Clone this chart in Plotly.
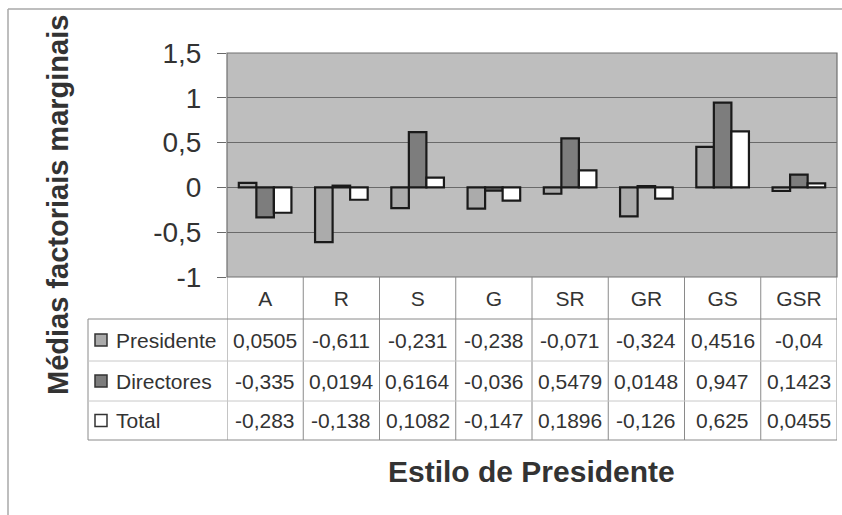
import plotly.graph_objects as go

# Marginal factorial means by chairman style
categories = ["A", "R", "S", "G", "SR", "GR", "GS", "GSR"]
series_names = ["Presidente", "Directores", "Total"]
presidente = [0.0505, -0.611, -0.231, -0.238, -0.071, -0.324, 0.4516, -0.04]
directores = [-0.335, 0.0194, 0.6164, -0.036, 0.5479, 0.0148, 0.947, 0.1423]
total = [-0.283, -0.138, 0.1082, -0.147, 0.1896, -0.126, 0.625, 0.0455]
y_ticks = [-1, -0.5, 0, 0.5, 1, 1.5]

series_values = [presidente, directores, total]
series_colors = ["#ababab", "#7d7d7d", "#ffffff"]

W, H = 842, 515
L, R, T, B = 227, 837, 53, 277  # plot area in pixels


def px(xp):
    return (xp - L) / (R - L)


def py(yp):
    return (B - yp) / (B - T)


def fmt(v):
    s = f"{v:g}"
    return s.replace(".", ",")


text_color = "#333333"
font_family = "Liberation Sans, Arial, sans-serif"
table_font = 21

fig = go.Figure()
for name, vals, col in zip(series_names, series_values, series_colors):
    fig.add_trace(go.Bar(
        x=categories, y=vals, name=name,
        marker=dict(color=col, line=dict(color="#1a1a1a", width=2.2)),
        showlegend=False,
    ))

shapes = []
annotations = []

# outer chart frame
shapes.append(dict(type="line", xref="paper", yref="paper",
                   x0=px(8), x1=px(845), y0=py(9), y1=py(9),
                   line=dict(color="#a8a8a8", width=1.5)))
shapes.append(dict(type="line", xref="paper", yref="paper",
                   x0=px(8), x1=px(8), y0=py(9), y1=py(520),
                   line=dict(color="#a8a8a8", width=1.5)))

# plot area border
shapes.append(dict(type="rect", xref="paper", yref="paper",
                   x0=0, x1=1, y0=0, y1=1, layer="above",
                   line=dict(color="#707070", width=1.2)))

# data table geometry
row_edges = [277, 319, 361, 401, 440]
row_centers = [(row_edges[i] + row_edges[i + 1]) / 2 for i in range(4)]
table_left = 88
line_col = "#8a8a8a"
inner_col = "#c8c8c8"

# vertical column separators
for i in range(len(categories) + 1):
    shapes.append(dict(type="line", xref="x", yref="paper",
                       x0=i - 0.5, x1=i - 0.5, y0=py(row_edges[0]), y1=py(row_edges[-1]),
                       line=dict(color=line_col, width=1)))
# legend column left border
shapes.append(dict(type="line", xref="paper", yref="paper",
                   x0=px(table_left), x1=px(table_left), y0=py(row_edges[1]), y1=py(row_edges[-1]),
                   line=dict(color=line_col, width=1)))
# horizontal lines
shapes.append(dict(type="line", xref="paper", yref="paper",
                   x0=px(table_left), x1=1, y0=py(row_edges[1]), y1=py(row_edges[1]),
                   line=dict(color=line_col, width=1)))
for yy in row_edges[2:4]:
    shapes.append(dict(type="line", xref="paper", yref="paper",
                       x0=px(table_left), x1=1, y0=py(yy), y1=py(yy),
                       line=dict(color=inner_col, width=1)))
shapes.append(dict(type="line", xref="paper", yref="paper",
                   x0=px(table_left), x1=1, y0=py(row_edges[-1]), y1=py(row_edges[-1]),
                   line=dict(color=line_col, width=1)))

# legend keys and series rows
for r, (name, vals, col) in enumerate(zip(series_names, series_values, series_colors)):
    yc = row_centers[r + 1]
    shapes.append(dict(type="rect", xref="paper", yref="paper",
                       x0=px(95), x1=px(107), y0=py(yc + 6), y1=py(yc - 6),
                       fillcolor=col, line=dict(color="#333333", width=1.5)))
    annotations.append(dict(xref="paper", yref="paper", x=px(114), y=py(yc),
                            text=name, showarrow=False, xanchor="left", yanchor="middle",
                            font=dict(size=table_font, color=text_color, family=font_family)))
    for cat, v in zip(categories, vals):
        annotations.append(dict(xref="x", yref="paper", x=cat, y=py(yc),
                                text=fmt(v), showarrow=False, xanchor="center", yanchor="middle",
                                font=dict(size=table_font, color=text_color, family=font_family)))

# axis titles
annotations.append(dict(xref="paper", yref="paper", x=px(58), y=py(205),
                        text="<b>Médias factoriais marginais</b>", textangle=-90, showarrow=False,
                        xanchor="center", yanchor="middle",
                        font=dict(size=29, color=text_color, family=font_family)))
annotations.append(dict(xref="paper", yref="paper", x=px(531), y=py(471),
                        text="<b>Estilo de Presidente</b>", showarrow=False,
                        xanchor="center", yanchor="middle",
                        font=dict(size=30, color=text_color, family=font_family)))

fig.update_layout(
    width=W, height=H,
    margin=dict(l=L, r=W - R, t=T, b=H - B, pad=0),
    paper_bgcolor="white",
    plot_bgcolor="#bebebe",
    barmode="group", bargap=0.31, bargroupgap=0,
    shapes=shapes, annotations=annotations,
    font=dict(family=font_family, color=text_color),
)
fig.update_xaxes(
    type="category", range=[-0.5, len(categories) - 0.5],
    showgrid=False, zeroline=False, showline=False, ticks="",
    tickfont=dict(size=table_font, color=text_color, family=font_family),
    ticklabelstandoff=7,
)
fig.update_yaxes(
    range=[-1, 1.5], tickvals=y_ticks,
    ticktext=[fmt(v) for v in y_ticks],
    showgrid=True, gridcolor="#6a6a6a", gridwidth=1,
    zeroline=True, zerolinecolor="#6a6a6a", zerolinewidth=1,
    ticks="outside", ticklen=9, tickcolor="#6a6a6a",
    tickfont=dict(size=28, color=text_color, family=font_family),
    ticklabelstandoff=10,
)

fig.write_html("out.html")
